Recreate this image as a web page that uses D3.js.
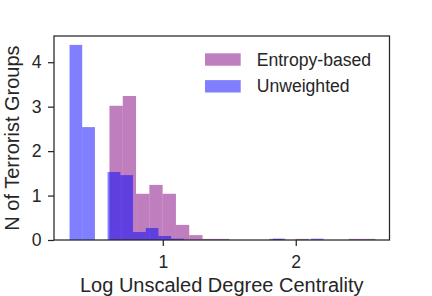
<!DOCTYPE html>
<html>
<head>
<meta charset="utf-8">
<script src="https://cdn.jsdelivr.net/npm/d3@7"></script>
<style>
  body { margin: 0; background: #fff; }
  text { font-family: "Liberation Sans", Arial, sans-serif; fill: #262626; }
</style>
</head>
<body>
<div id="container"></div>
<script>
// histogram bin edges and densities
let entropyEdges = [0.599, 0.699, 0.799, 0.899, 0.999, 1.099, 1.199, 1.299, 1.399, 1.499, 1.599,
                    1.699, 1.799, 1.899, 1.999, 2.099, 2.199, 2.299, 2.399, 2.499, 2.599];
let entropyValues = [3.02, 3.24, 1.04, 1.24, 1.04, 0.34, 0.11, 0.025, 0.025, 0, 0,
                     0, 0.025, 0, 0.025, 0, 0, 0, 0.025, 0.025];

let unweightedEdges = [0.299, 0.394, 0.490, 0.585, 0.681, 0.776, 0.872, 0.967, 1.063, 1.158, 1.254,
                       1.349, 1.445, 1.540, 1.636, 1.731, 1.827, 1.922, 2.018, 2.113, 2.209];
let unweightedValues = [4.39, 2.54, 0, 1.53, 1.46, 0.18, 0.27, 0.09, 0.03, 0, 0,
                        0, 0, 0, 0, 0, 0.03, 0, 0, 0.03];

let xTicks = [1, 2];
let yTicks = [0, 1, 2, 3, 4];
let seriesNames = ["Entropy-based", "Unweighted"];
let seriesColors = ["purple", "blue"];

let viz = d3.select("#container")
  .append("svg")
    .attr("width", 432)
    .attr("height", 296);

let x = d3.scaleLinear().domain([0.182, 2.705]).range([54, 389.5]);
let y = d3.scaleLinear().domain([0, 4.59]).range([240, 36]);

function drawHist(edges, values, color) {
  let bins = values.map((v, i) => ({x0: edges[i], x1: edges[i + 1], v: v}));
  viz.append("g")
    .selectAll("rect")
    .data(bins.filter(d => d.v > 0))
    .join("rect")
      .attr("x", d => x(d.x0))
      .attr("width", d => x(d.x1) - x(d.x0))
      .attr("y", d => y(d.v))
      .attr("height", d => y(0) - y(d.v))
      .attr("fill", color)
      .attr("fill-opacity", 0.5);
}

drawHist(entropyEdges, entropyValues, seriesColors[0]);
drawHist(unweightedEdges, unweightedValues, seriesColors[1]);

// axes
let xAxis = viz.append("g")
  .attr("transform", "translate(0,240)")
  .call(d3.axisBottom(x).tickValues(xTicks).tickFormat(d3.format("d")).tickSize(6).tickSizeOuter(0).tickPadding(9.5));
let yAxis = viz.append("g")
  .attr("transform", "translate(54,0)")
  .call(d3.axisLeft(y).tickValues(yTicks).tickFormat(d3.format("d")).tickSize(6).tickSizeOuter(0).tickPadding(6.5));

[xAxis, yAxis].forEach(a => {
  a.select(".domain").remove();
  a.selectAll(".tick line").attr("stroke", "#262626").attr("stroke-width", 1.25);
  a.selectAll(".tick text")
    .attr("font-size", 17.6)
    .attr("font-family", '"Liberation Sans", Arial, sans-serif')
    .attr("fill", "#262626");
});

// frame
viz.append("rect")
  .attr("x", x.range()[0])
  .attr("y", y.range()[1])
  .attr("width", x.range()[1] - x.range()[0])
  .attr("height", y.range()[0] - y.range()[1])
  .attr("fill", "none")
  .attr("stroke", "#262626")
  .attr("stroke-width", 1.25);

// axis labels
viz.append("text")
  .text("Log Unscaled Degree Centrality")
  .attr("font-size", 20)
  .attr("text-anchor", "middle")
  .attr("x", (x.range()[0] + x.range()[1]) / 2)
  .attr("y", 292);

viz.append("text")
  .text("N of Terrorist Groups")
  .attr("font-size", 20)
  .attr("text-anchor", "middle")
  .attr("transform", "translate(19," + ((y.range()[0] + y.range()[1]) / 2) + ") rotate(-90)");

// legend
let legend = viz.append("g")
  .selectAll("g")
  .data(seriesNames)
  .join("g")
    .attr("transform", (d, i) => "translate(205," + (59.5 + i * 26.8) + ")");

legend.append("rect")
  .attr("x", 0)
  .attr("y", -6.2)
  .attr("width", 35.7)
  .attr("height", 12.4)
  .attr("fill", (d, i) => seriesColors[i])
  .attr("fill-opacity", 0.5);

legend.append("text")
  .text(d => d)
  .attr("x", 51.7)
  .attr("y", 0)
  .attr("dy", "0.35em")
  .attr("font-size", 17.6);
</script>
</body>
</html>
